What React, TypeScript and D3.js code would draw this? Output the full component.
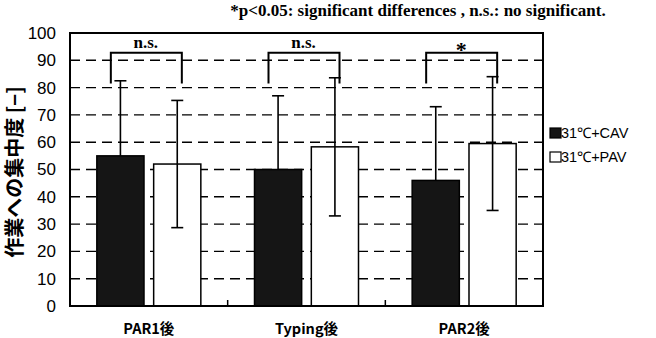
import React from 'react';
import * as d3 from 'd3';

const categories = ['PAR1後', 'Typing後', 'PAR2後'];
const seriesNames = ['31℃+CAV', '31℃+PAV'];
const cavMean = [55, 50, 46];
const cavSd = [27.5, 27, 27];
const pavMean = [52, 58.3, 59.5];
const pavSd = [23.3, 25.3, 24.5];
const sigLabels = ['n.s.', 'n.s.', '*'];
const yTicks = [0, 10, 20, 30, 40, 50, 60, 70, 80, 90, 100];

const W = 656;
const H = 338;
const margin = { top: 33, right: 113, bottom: 32, left: 70 };

const App = () => {
  const innerW = W - margin.left - margin.right;
  const innerH = H - margin.top - margin.bottom;

  const x = d3.scaleBand().domain(categories).range([0, innerW]);
  const xs = d3.scaleBand().domain(seriesNames).range([-52, 52]).paddingInner(0.17);
  const y = d3.scaleLinear().domain([0, 100]).range([innerH, 0]);

  const series = [
    { name: seriesNames[0], mean: cavMean, sd: cavSd, fill: '#151515', dark: true },
    { name: seriesNames[1], mean: pavMean, sd: pavSd, fill: '#ffffff', dark: false },
  ];

  return (
    <svg width={W} height={H} style={{ position: 'absolute', left: 0, top: 0 }}>
      <rect width={W} height={H} fill="#fff" />
      <text
        x={418}
        y={16}
        textAnchor="middle"
        fontFamily="Liberation Serif, serif"
        fontWeight="bold"
        fontSize={17}
      >
        *p&lt;0.05: significant differences , n.s.: no significant.
      </text>
      <g transform={`translate(${margin.left},${margin.top})`}>
        {yTicks.filter(t => t > 0 && t < 100).map(t => (
          <line
            key={t}
            x1={0}
            x2={innerW}
            y1={y(t)}
            y2={y(t)}
            stroke="#000"
            strokeWidth={1.4}
            strokeDasharray="10,6"
          />
        ))}
        {yTicks.map(t => (
          <text
            key={t}
            x={-14}
            y={y(t)}
            dy="0.35em"
            textAnchor="end"
            fontFamily="Liberation Sans, Arial, sans-serif"
            fontSize={17}
          >
            {t}
          </text>
        ))}
        {categories.map((c, i) => {
          const cx = x(c)! + x.bandwidth() / 2;
          return (
            <g key={c}>
              {series.map(s => {
                const bx = cx + xs(s.name)!;
                const bw = xs.bandwidth();
                const m = s.mean[i];
                const hi = m + s.sd[i];
                const lo = m - s.sd[i];
                const mx = bx + bw / 2;
                return (
                  <g key={s.name}>
                    <rect
                      x={bx}
                      y={y(m)}
                      width={bw}
                      height={innerH - y(m)}
                      fill={s.fill}
                      stroke="#000"
                      strokeWidth={1.5}
                    />
                    <line x1={mx} x2={mx} y1={y(hi)} y2={s.dark ? y(m) : y(lo)} stroke="#000" strokeWidth={1.6} />
                    <line x1={mx - 6} x2={mx + 6} y1={y(hi)} y2={y(hi)} stroke="#000" strokeWidth={1.6} />
                    {!s.dark && (
                      <line x1={mx - 6} x2={mx + 6} y1={y(lo)} y2={y(lo)} stroke="#000" strokeWidth={1.6} />
                    )}
                  </g>
                );
              })}
              <path
                d={`M${cx - 38},${y(81.5)}V${y(92.8)}H${cx + 33}V${y(81.5)}`}
                fill="none"
                stroke="#000"
                strokeWidth={2}
              />
              <text
                x={cx - 3}
                y={sigLabels[i] === '*' ? y(93) + 5 : y(94.6)}
                textAnchor="middle"
                fontFamily="Liberation Serif, serif"
                fontWeight="bold"
                fontSize={sigLabels[i] === '*' ? 22 : 17}
              >
                {sigLabels[i]}
              </text>
              <text
                x={cx}
                y={innerH + 28}
                textAnchor="middle"
                fontFamily="Noto Sans CJK JP, sans-serif"
                fontWeight="bold"
                fontSize={14.5}
              >
                {c}
              </text>
            </g>
          );
        })}
        {categories.slice(1).map(c => (
          <line key={c} x1={x(c)} x2={x(c)} y1={innerH} y2={innerH - 6} stroke="#000" strokeWidth={1.5} />
        ))}
        <rect x={0} y={0} width={innerW} height={innerH} fill="none" stroke="#000" strokeWidth={2} />
      </g>
      <text
        transform={`translate(22,172) rotate(-90)`}
        textAnchor="middle"
        fontFamily="Noto Sans CJK JP, sans-serif"
        fontWeight="bold"
        fontSize={20}
      >
        作業への集中度 [−]
      </text>
      {series.map((s, i) => (
        <g key={s.name} transform={`translate(550,${128 + i * 24})`}>
          <rect x={0} y={0} width={11} height={10} fill={s.fill} stroke="#000" strokeWidth={1.2} />
          <text
            x={11}
            y={10}
            fontFamily="Liberation Sans, Arial, sans-serif"
            fontSize={14.5}
          >
            {s.name}
          </text>
        </g>
      ))}
    </svg>
  );
};

export default App;
